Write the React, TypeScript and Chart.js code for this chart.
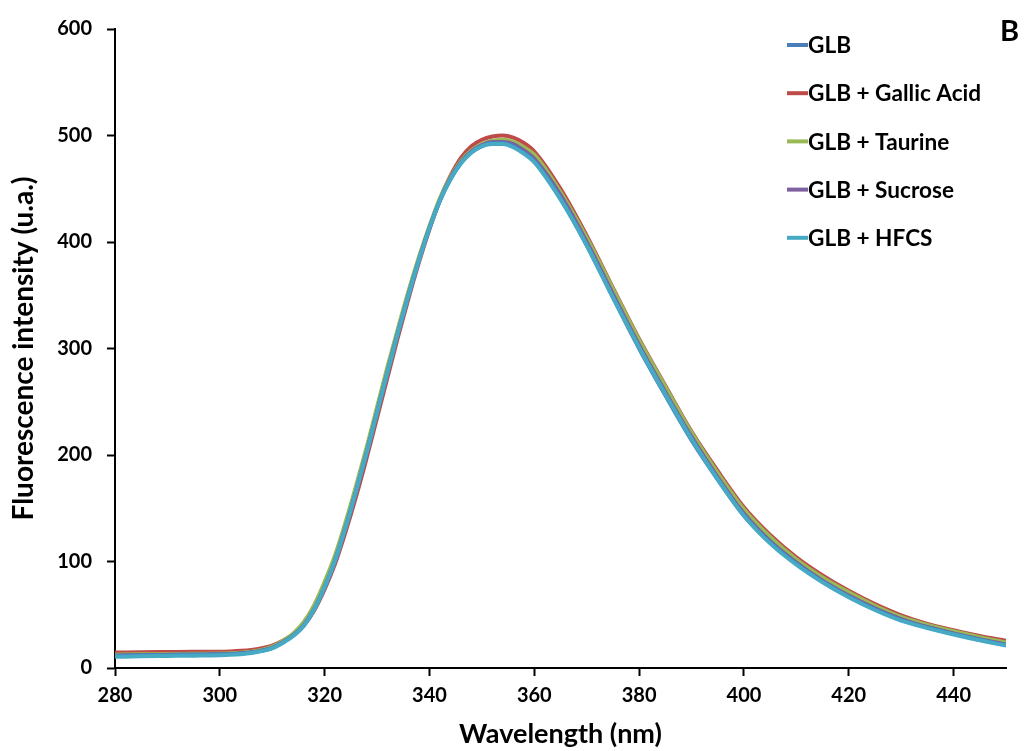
import React, { useEffect, useRef } from "react";
import { Chart, registerables } from "chart.js";

Chart.register(...registerables);

const wavelengths = [280, 285, 290, 295,
  300, 302, 304, 306, 308, 310, 312, 314, 316, 318, 320, 322, 324, 326, 328, 330, 332, 334, 336, 338, 340, 342, 344, 346, 348, 350, 352, 354, 356, 358, 360,
  365, 370, 375, 380, 385, 390, 395, 400, 405, 410, 415, 420, 425, 430, 435, 440, 445, 450];

const glb = [11.5, 12, 12.3, 12.6,
  12.8, 13.1, 13.6, 14.6, 16.3, 19, 24, 30.5, 40, 55, 76, 101, 132, 166, 202, 240, 278, 315, 350, 383, 413, 439, 459, 474, 484, 490, 493, 493, 490, 484, 476,
  441, 397, 348, 300, 256, 214, 177, 143, 118, 98, 81, 67, 55, 45, 38, 32, 26.5, 21.5];
const gallic = [14.5, 14.8, 15, 15.2,
  15.3, 15.6, 16.1, 17, 18.6, 21, 25.5, 31.5, 40, 54, 74, 98, 128, 161, 197, 235, 273, 311, 347, 381, 412, 440, 462, 479, 490, 496, 499, 500, 498, 493, 485,
  450, 406, 357, 309, 265, 222, 185, 151, 125, 104, 87, 72.5, 60, 49.5, 41.5, 35.5, 30, 25.5];
const taurine = [12.5, 12.8, 13, 13.3,
  13.5, 13.8, 14.3, 15.3, 17, 20, 25.5, 32.5, 43, 59, 81, 106, 137, 171, 207, 245, 283, 319, 354, 386, 415, 441, 461, 476, 486, 492, 495, 496, 494, 489, 482,
  447, 404, 356, 308, 264, 221, 183, 149, 123, 102, 85, 71, 58.5, 48, 40.5, 34.5, 29, 24];
const sucrose = [11.5, 12, 12.3, 12.5,
  12.8, 13.1, 13.6, 14.6, 16.3, 19, 24, 30.5, 40, 55, 76, 101, 132, 166, 202, 240, 278, 315, 350, 383, 413, 439, 460, 475, 485, 491, 494, 494, 492, 486, 478,
  444, 400, 351, 303, 259, 217, 179, 145, 119, 99, 82, 68, 56, 46, 38.5, 32.5, 27, 22];
const hfcs = [10.5, 11, 11.3, 11.6,
  12, 12.4, 13, 14, 15.8, 18.5, 23.5, 30, 39.5, 55, 76, 101, 132, 166, 202, 240, 278, 315, 350, 383, 413, 439, 459, 474, 484, 490, 492, 492, 489, 483, 475,
  440, 397, 348, 301, 257, 215, 177, 143, 117, 97, 80.5, 66.5, 54.5, 44.5, 37.5, 31.5, 26, 21];

const seriesLabels = ["GLB", "GLB + Gallic Acid", "GLB + Taurine", "GLB + Sucrose", "GLB + HFCS"];
const seriesColors = ["#4A7EBB", "#BE4B48", "#98B954", "#7D60A0", "#46AAC5"];
const seriesValues = [glb, gallic, taurine, sucrose, hfcs];
const drawOrder = [2, 5, 4, 3, 1];

const xTicks = [280, 300, 320, 340, 360, 380, 400, 420, 440];
const yTicks = [0, 100, 200, 300, 400, 500, 600];

const FONT = "Lato, 'Open Sans', sans-serif";

const legendPlugin = {
  id: "customLegend",
  afterDraw(chart: any) {
    const ctx = chart.ctx;
    ctx.save();
    const x0 = 787;
    const y0 = 45;
    const gap = 48.2;
    chart.data.datasets.forEach((ds: any, i: number) => {
      const y = y0 + i * gap;
      ctx.strokeStyle = ds.borderColor;
      ctx.lineWidth = 4;
      ctx.beginPath();
      ctx.moveTo(x0, y);
      ctx.lineTo(x0 + 21, y);
      ctx.stroke();
      ctx.fillStyle = "#000";
      ctx.font = `bold 22.6px ${FONT}`;
      ctx.textBaseline = "middle";
      ctx.textAlign = "left";
      ctx.fillText(ds.label, x0 + 21, y + 1);
    });
    ctx.font = `bold 29px ${FONT}`;
    ctx.textAlign = "right";
    ctx.textBaseline = "middle";
    ctx.fillText("B", 1019, 32);
    ctx.restore();
  },
};

export default function App() {
  const ref = useRef<HTMLCanvasElement | null>(null);
  useEffect(() => {
    document.body.style.margin = "0";
    if (!ref.current) return;
    const chart = new Chart(ref.current, {
      type: "line",
      data: {
        datasets: seriesLabels.map((label, i) => ({
          label,
          data: wavelengths.map((w, j) => ({ x: w, y: seriesValues[i][j] })),
          borderColor: seriesColors[i],
          backgroundColor: seriesColors[i],
          borderWidth: 4,
          pointRadius: 0,
          cubicInterpolationMode: "monotone" as const,
          fill: false,
          order: drawOrder[i],
        })),
      },
      options: {
        animation: false,
        responsive: false,
        maintainAspectRatio: false,
        layout: { padding: { left: 0, right: 18, top: 29, bottom: 0 } },
        plugins: { legend: { display: false }, tooltip: { enabled: false } },
        scales: {
          x: {
            type: "linear",
            min: 280,
            max: 450,
            afterBuildTicks: (s: any) => {
              s.ticks = xTicks.map((v) => ({ value: v }));
            },
            afterFit: (s: any) => {
              s.height = 83;
            },
            grid: {
              drawOnChartArea: false,
              drawTicks: true,
              tickLength: 8,
              tickColor: "#000",
              tickWidth: 2,
            },
            border: { display: true, color: "#000", width: 2 },
            ticks: {
              color: "#000",
              font: { family: FONT, size: 20, weight: "bold" },
              padding: 8,
              maxRotation: 0,
            },
            title: {
              display: true,
              text: "Wavelength (nm)",
              color: "#000",
              font: { family: FONT, size: 27, weight: "bold" },
              padding: { top: 0, bottom: 1 },
            },
          },
          y: {
            type: "linear",
            min: 0,
            max: 600,
            afterBuildTicks: (s: any) => {
              s.ticks = yTicks.map((v) => ({ value: v }));
            },
            afterFit: (s: any) => {
              s.width = 115;
            },
            grid: {
              drawOnChartArea: false,
              drawTicks: true,
              tickLength: 8,
              tickColor: "#000",
              tickWidth: 2,
            },
            border: { display: true, color: "#000", width: 2 },
            ticks: {
              color: "#000",
              font: { family: FONT, size: 20, weight: "bold" },
              padding: 15,
            },
            title: {
              display: true,
              text: "Fluorescence intensity (u.a.)",
              color: "#000",
              font: { family: FONT, size: 28, weight: "bold" },
              padding: { top: 7, bottom: 0 },
            },
          },
        },
      },
      plugins: [legendPlugin],
    });
    return () => chart.destroy();
  }, []);
  return (
    <div style={{ position: "absolute", left: 0, top: 0, width: 1024, height: 751 }}>
      <canvas ref={ref} width={1024} height={751} style={{ width: 1024, height: 751 }} />
    </div>
  );
}
